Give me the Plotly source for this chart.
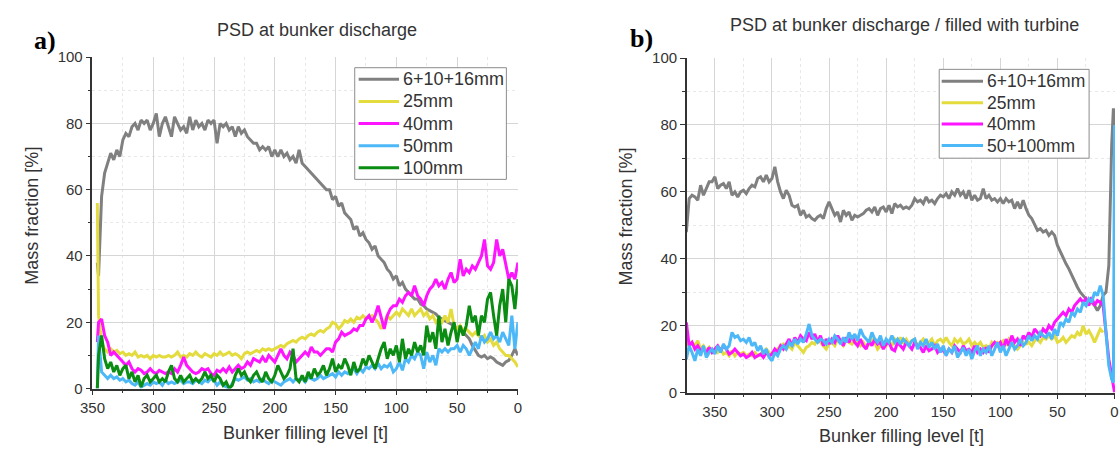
import plotly.graph_objects as go

# ---------------- Panel a data (bunker filling level [t] vs mass fraction [%]) ----------------
XA = [346, 345, 342.5, 340, 337.5, 335, 332.5, 330, 327.5, 325, 322.5, 320, 317.5, 315, 312.5, 310,
      307.5, 305, 302.5, 300, 297.5, 295, 292.5, 290, 287.5, 285, 282.5, 280, 277.5, 275, 272.5, 270,
      267.5, 265, 262.5, 260, 257.5, 255, 252.5, 250, 247.5, 245, 242.5, 240, 237.5, 235, 232.5, 230,
      227.5, 225, 222.5, 220, 217.5, 215, 212.5, 210, 207.5, 205, 202.5, 200, 197.5, 195, 192.5, 190,
      187.5, 185, 182.5, 180, 177.5, 175, 172.5, 170, 167.5, 165, 162.5, 160, 157.5, 155, 152.5, 150,
      147.5, 145, 142.5, 140, 137.5, 135, 132.5, 130, 127.5, 125, 122.5, 120, 117.5, 115, 112.5, 110,
      107.5, 105, 102.5, 100, 97.5, 95, 92.5, 90, 87.5, 85, 82.5, 80, 77.5, 75, 72.5, 70,
      67.5, 65, 62.5, 60, 57.5, 55, 52.5, 50, 47.5, 45, 42.5, 40, 37.5, 35, 32.5, 30,
      27.5, 25, 22.5, 20, 17.5, 15, 12.5, 10, 7.5, 5, 2.5, 0]

A_FINE = [38, 34, 58, 65, 68, 71, 69, 72, 70, 75, 77, 76, 79, 80, 78, 81,
          80, 81, 78, 80, 83, 76, 80, 82, 79, 76, 82, 80, 78, 79, 77, 82,
          78, 81, 79, 80, 78, 81, 80, 81, 74, 80, 79, 80, 78, 79, 76, 79,
          77, 78, 76, 75, 74, 74, 72, 73, 72, 73, 70, 72, 70, 72, 70, 71,
          69, 70, 68, 72, 68, 67, 66, 65, 64, 63, 62, 61, 60, 60, 57, 58,
          55, 56, 53, 52, 51, 48, 49, 46, 47, 45, 44, 42, 43, 40, 39, 38,
          36, 35, 33, 34, 31, 32, 30, 29, 28, 27, 27, 25.5, 25, 24, 23.5, 23,
          22.5, 21.5, 21, 20.5, 20, 19.5, 19, 18, 18, 17, 16, 15, 13, 11.5, 10, 9.5,
          10, 9, 9.5, 9, 8, 7.5, 7, 8, 8.5, 10, 12, 10]

A_25 = [56, 22, 14, 12, 11, 12, 11, 11.5, 10.5, 11, 10, 10.5, 10, 11, 9.5, 10,
        9.5, 10, 9, 10, 9.5, 10, 9.5, 9.5, 10, 9.5, 10, 11, 9.5, 10, 9.5, 10.5,
        10, 11, 10, 9.5, 10.5, 10, 9.5, 10.5, 10, 11, 10, 10.5, 11, 10, 10.5, 10,
        9, 10.5, 11, 10.5, 11, 11.5, 11, 12, 11.5, 12, 11.5, 12, 12.5, 13, 12.5, 13.5,
        14, 14.5, 14, 15, 15.5, 15, 16, 16.5, 16, 17, 17.5, 17, 18, 18.5, 20, 19.5,
        18, 19, 20.5, 20, 21, 20, 21.5, 21, 22, 21, 21.5, 22, 21, 20, 18, 20,
        22, 21, 22, 23, 22, 24, 23, 22, 24, 22, 23, 24, 22, 23, 21, 22,
        20, 21, 20, 22, 20, 24, 19, 18, 19, 17.5, 18, 17, 16, 17, 16, 15,
        16, 14, 15, 13, 14, 12, 11, 10, 10, 9, 8, 6.5]

A_40 = [14, 20, 21, 16, 14, 10, 11, 10, 9, 8, 7, 8, 6, 5, 6, 5.5,
        4.5, 5, 6, 5, 4.5, 5.5, 5, 4.5, 5, 4.5, 6, 5, 7, 9.5, 7, 6,
        5, 4.5, 5, 6, 5.5, 6, 4.5, 4, 5.5, 5, 6, 5, 6.5, 5, 6, 7,
        6, 6.5, 8, 7, 9, 8.5, 8, 9.5, 8, 10, 9, 8, 10, 12, 10, 9,
        11, 10, 8, 9, 10, 11, 10, 12.5, 11, 11, 10, 11, 12, 12, 11, 14,
        15, 17, 16, 16.5, 17, 18, 17.5, 19, 19, 21, 22, 20, 22, 25, 21, 18,
        22, 24, 25, 25, 27, 26, 28, 29, 28, 31, 28, 27, 25, 28, 30, 31,
        33, 31, 32, 30, 33, 35, 32, 33, 39, 34, 36, 35, 37, 36, 38, 40,
        45, 37, 36, 38, 45, 40, 42, 38, 33, 35, 33, 38]

A_50 = [0, 16, 5, 4, 3, 4, 3, 3.5, 2.5, 3, 2, 2.5, 1.5, 1, 2, 0.5,
        1, 1.5, 1, 2, 1.5, 2, 1, 2.5, 1.5, 2, 1.5, 2, 2.5, 1.5, 2, 2,
        1.5, 2.5, 2, 1.5, 2.5, 2, 3, 2.5, 1, 2, 1, 0.5, 0, 1.5, 3, 2.5,
        3, 3.5, 2.5, 3, 2, 2.5, 2, 3, 2, 1.5, 2.5, 2, 1.5, 1, 2, 2.5,
        3, 2, 3, 2.5, 3, 2, 3.5, 3, 2.5, 3, 4, 3, 3.5, 4, 4.5, 3.5,
        5, 4, 5, 4.5, 5.5, 6, 4.5, 6, 5, 6.5, 6, 7, 6, 7.5, 6, 7,
        6.5, 7.5, 5, 6, 8, 5.5, 9, 8, 10, 9, 11, 10, 6, 11, 8, 10,
        7, 12, 11, 12, 11, 12, 12, 13, 11, 13, 12, 10, 12, 14, 12, 16,
        14, 15, 17, 15, 16, 14, 17, 15, 13, 22, 12, 20]

A_100 = [0, 10, 16, 9, 6, 8, 5, 7, 4, 6, 7, 3, 5, 2, 4, 0.5,
         3, 4, 2, 3, 4, 2, 3, 2, 5, 7, 3, 2, 4, 2, 3, 4,
         2, 3, 2, 3, 5, 3, 4, 2, 4, 3, 1, 2, 0, 1, 4, 6,
         4, 5, 3, 2, 4, 5, 3, 2, 5, 3, 2, 4, 7, 5, 3, 4,
         6, 12, 3, 2, 4, 2, 5, 3, 6, 4, 5, 7, 4, 6, 9, 5,
         7, 6, 9, 7, 4, 8, 5, 6, 9, 7, 10, 8, 6, 9, 12, 14,
         9, 12, 10, 13, 8, 15, 9, 12, 10, 14, 11, 13, 10, 19, 14, 17,
         12, 22, 14, 18, 13, 17, 20, 14, 19, 16, 19, 25, 20, 22, 16, 22,
         20, 27, 29, 22, 16, 25, 30, 20, 33, 31, 24, 33]

# ---------------- Panel b data ----------------
XB = [375, 372.5, 370, 367.5, 365, 362.5, 360, 357.5, 355, 352.5, 350, 347.5, 345, 342.5, 340, 337.5,
      335, 332.5, 330, 327.5, 325, 322.5, 320, 317.5, 315, 312.5, 310, 307.5, 305, 302.5, 300, 297.5,
      295, 292.5, 290, 287.5, 285, 282.5, 280, 277.5, 275, 272.5, 270, 267.5, 265, 262.5, 260, 257.5,
      255, 252.5, 250, 247.5, 245, 242.5, 240, 237.5, 235, 232.5, 230, 227.5, 225, 222.5, 220, 217.5,
      215, 212.5, 210, 207.5, 205, 202.5, 200, 197.5, 195, 192.5, 190, 187.5, 185, 182.5, 180, 177.5,
      175, 172.5, 170, 167.5, 165, 162.5, 160, 157.5, 155, 152.5, 150, 147.5, 145, 142.5, 140, 137.5,
      135, 132.5, 130, 127.5, 125, 122.5, 120, 117.5, 115, 112.5, 110, 107.5, 105, 102.5, 100, 97.5,
      95, 92.5, 90, 87.5, 85, 82.5, 80, 77.5, 75, 72.5, 70, 67.5, 65, 62.5, 60, 57.5,
      55, 52.5, 50, 47.5, 45, 42.5, 40, 37.5, 35, 32.5, 30, 27.5, 25, 22.5, 20, 17.5,
      15, 12.5, 10, 7.5, 5, 2.5, 1, 0]

B_FINE = [48, 58, 59, 58.5, 57.5, 62, 59, 61, 63, 63, 64.5, 61, 62, 62.5, 61, 63,
          59, 60, 58.5, 60, 60.5, 59.5, 61, 62, 61.5, 64, 64.5, 63, 65, 63, 64, 67.5,
          63, 60, 58, 60.5, 59, 56, 55.5, 56, 53, 54.5, 52.5, 53, 52, 51.5, 52.5, 53,
          52, 55, 57, 55, 53, 54, 51, 54.5, 53, 54, 51.5, 53, 52.5, 53, 53.5, 54.5,
          55, 54, 55.5, 53, 55, 55.5, 54, 56, 53.5, 56.5, 55.5, 56, 55, 55.5, 55, 56,
          58, 57, 57.5, 56.5, 58.5, 57, 57.5, 56.5, 58, 59, 58.5, 59.5, 58, 60, 59, 61,
          59, 60, 58, 60.5, 57.5, 59, 57.5, 58, 61, 58, 59, 57.5, 58, 57, 58, 56.5,
          58, 57, 57.5, 55, 57, 55, 57.5, 55, 53, 52, 50, 48.5, 49, 48, 48.5, 47,
          48, 47, 44, 42, 40, 38.5, 37, 35, 33, 31.5, 30, 29, 28, 27.5, 27, 26,
          24.5, 26, 29, 30, 38, 74, 85, 80]

B_25 = [15, 14, 15, 14, 15.5, 13, 14, 12.5, 13.5, 12, 13, 12, 13, 11.5, 12, 11,
        12.5, 11, 12, 11.5, 12, 11, 11.5, 11, 12, 11, 11.5, 12, 13, 12, 11.5, 12.5,
        13, 14, 14.5, 13, 14, 13, 15, 14, 13, 12, 13.5, 14, 15, 14.5, 16, 15,
        14, 13, 14.5, 15, 14, 16, 15, 14, 16, 15, 14.5, 16, 15, 14, 15, 13.5,
        14.5, 16, 15, 13, 14, 15, 14, 15.5, 14, 16, 15, 16.5, 15, 16, 14.5, 15.5,
        16, 14, 15, 16, 14.5, 15, 16, 14, 15.5, 16, 15, 16.5, 15, 14, 16, 15,
        16, 14.5, 15, 16, 14, 15, 14, 15, 13.5, 14, 13, 15, 14, 15, 14.5, 15.5,
        14, 16, 15, 14, 13, 14, 15, 14.5, 15, 14, 15.5, 16, 15, 16.5, 16, 17,
        16, 17, 15, 15.5, 16.5, 15, 16, 17, 16.5, 18, 17, 20, 17.5, 18.5, 17, 15,
        17, 19, 18, None, None, None, None, None]

B_40 = [21, 14, 15, 13, 14, 12.5, 13, 12, 13.5, 12, 13, 14, 12.5, 14, 13, 11.5,
        12, 13, 12, 11, 11.5, 10.5, 11, 12, 10.5, 11, 11.5, 10.5, 12, 11, 11.5, 13,
        12, 14, 13, 14.5, 16, 14, 16.5, 15, 17, 16, 15.5, 18, 16, 17.5, 15, 17,
        14, 16, 14.5, 16, 15, 17, 15.5, 14, 16.5, 15, 17, 15, 14, 16, 14, 13,
        15.5, 14, 16, 14.5, 15, 13, 14.5, 15, 13, 12.5, 15, 14, 13, 15, 14, 13,
        15, 14, 13.5, 12, 14, 12.5, 13, 14, 12, 13, 12.5, 11.5, 13, 12, 14, 13,
        12, 14, 12.5, 13, 12, 14, 12, 13, 12, 13.5, 12, 14, 15, 14, 15, 13,
        16, 14, 17, 15, 16, 14, 17, 16, 18, 16.5, 19, 18, 17, 19, 18, 20,
        19, 21, 22, 23, 24, 23, 25, 24, 26, 27, 28, 27, 28, 26, 28.5, 26,
        27.5, 27, 26, 18, 10, 5, 1, 0]

B_50_100 = [10, 14, 12, 9.5, 13, 11, 14, 10.5, 12, 13, 11.5, 14, 12, 14.5, 13, 14,
            18, 16.5, 17, 15.5, 16, 15, 16.5, 14, 15, 12.5, 14, 11.5, 13, 10.5, 9.5, 12,
            11, 13, 14, 13, 15, 14, 16, 14.5, 16, 15, 17.5, 20.5, 17, 16, 15, 16,
            15.5, 14.5, 16, 15, 17, 16, 14.5, 16.5, 15, 18, 16, 17.5, 15.5, 19, 17, 16,
            15, 18, 16, 15, 17, 14, 16, 15, 17, 15, 16, 14.5, 16, 15, 14, 15.5,
            16, 13, 15, 14, 16, 13.5, 15, 13, 14.5, 12, 14, 11, 13, 12, 14, 10.5,
            12, 13.5, 11, 13, 10, 12.5, 14, 11, 13, 12, 14, 11, 13, 15, 12, 14,
            11, 13, 15, 13, 14, 16, 14, 15, 17, 15.5, 17, 16, 18, 17, 16.5, 18,
            16, 19, 17, 21, 20, 22, 21, 24, 23, 25, 24, 27, 26, 28, 27, 30,
            29, 32, 29, 18, 8, 4, 3, 80]

LABELS_A = ["6+10+16mm", "25mm", "40mm", "50mm", "100mm"]
LABELS_B = ["6+10+16mm", "25mm", "40mm", "50+100mm"]
Y_TICKS = [0, 20, 40, 60, 80, 100]
X_TICKS = [350, 300, 250, 200, 150, 100, 50, 0]

GRAY = "#808080"
YELLOW = "#e4dc3c"
MAGENTA = "#ff14ff"
BLUE = "#4db8f8"
GREEN = "#0b8c12"
COLORS_A = [GRAY, YELLOW, MAGENTA, BLUE, GREEN]
COLORS_B = [GRAY, YELLOW, MAGENTA, BLUE]

W, H = 1119, 454
FONT = "Liberation Sans, Arial, sans-serif"
TXT = "#333333"
LW = 3.0

fig = go.Figure()

for ys, col, name in zip([A_FINE, A_25, A_40, A_50, A_100], COLORS_A, LABELS_A):
    fig.add_trace(go.Scatter(x=XA, y=ys, mode="lines", name=name, showlegend=False,
                             line=dict(color=col, width=LW), xaxis="x", yaxis="y"))

for ys, col, name in zip([B_FINE, B_25, B_40, B_50_100], COLORS_B, LABELS_B):
    fig.add_trace(go.Scatter(x=XB, y=ys, mode="lines", name=name, showlegend=False,
                             line=dict(color=col, width=LW), xaxis="x2", yaxis="y2",
                             connectgaps=False))


def px_x(p):
    return p / W


def px_y(p):
    return 1 - p / H


axis_common = dict(
    showline=True, linecolor="#333333", linewidth=1.6, mirror=False,
    ticks="outside", ticklen=5, tickwidth=1.4, tickcolor="#333333",
    showgrid=True, gridcolor="#d6d6d6", gridwidth=1, zeroline=False,
    tickfont=dict(family=FONT, size=15, color=TXT),
)

xa_minor = dict(dtick=25, ticks="outside", ticklen=3, tickwidth=1.2, tickcolor="#333333",
                showgrid=True, gridcolor="#e8e8e8", griddash="dot", gridwidth=1)
ya_minor = dict(dtick=10, ticks="outside", ticklen=3, tickwidth=1.2, tickcolor="#333333",
                showgrid=True, gridcolor="#e8e8e8", griddash="dot", gridwidth=1)

fig.update_layout(
    width=W, height=H,
    margin=dict(l=0, r=0, t=0, b=0),
    paper_bgcolor="white", plot_bgcolor="white",
    font=dict(family=FONT, color=TXT),
    showlegend=False,
    xaxis=dict(domain=[px_x(80.7), px_x(512.7)], range=[350, 0], autorange=False,
               tickvals=X_TICKS, anchor="y", minor=xa_minor, **axis_common),
    yaxis=dict(domain=[px_y(394.3), px_y(50)], range=[0, 100], autorange=False,
               tickvals=Y_TICKS, anchor="x", minor=ya_minor, **axis_common),
    xaxis2=dict(domain=[px_x(684.3), 1.0], range=[374.5, -0.4], autorange=False,
                tickvals=X_TICKS, anchor="y2", minor=xa_minor, **axis_common),
    yaxis2=dict(domain=[px_y(398.5), px_y(51)], range=[0, 100], autorange=False,
                tickvals=Y_TICKS, anchor="x2", minor=ya_minor, **axis_common),
)

ann = []
shapes = []


def text(t, x, y, size, anchor="center", angle=0, family=FONT, color=TXT):
    ann.append(dict(text=t, x=px_x(x), y=px_y(y), xref="paper", yref="paper",
                    xanchor=anchor, yanchor="middle", showarrow=False, textangle=angle,
                    font=dict(family=family, size=size, color=color)))


text("PSD at bunker discharge", 309, 22, 18)
text("PSD at bunker discharge / filled with turbine", 905, 17, 18)
text("<b>a)</b>", 19, 33, 26, anchor="left", family="Liberation Serif, Times New Roman, serif", color="#000")
text("<b>b)</b>", 624, 31, 26, anchor="left", family="Liberation Serif, Times New Roman, serif", color="#000")
text("Bunker filling level [t]", 297, 440, 18)
text("Bunker filling level [t]", 902, 444, 18)
text("Mass fraction [%]", 19, 215, 18, angle=-90)
text("Mass fraction [%]", 622, 216, 18, angle=-90)


def legend_box(x0, y0, x1, y1, line_x0, line_x1, text_x, first_y, step, labels, colors, size):
    shapes.append(dict(type="rect", xref="paper", yref="paper",
                       x0=px_x(x0), x1=px_x(x1), y0=px_y(y1), y1=px_y(y0),
                       line=dict(color="#8c8c8c", width=1), fillcolor="white", layer="above"))
    for i, (lab, col) in enumerate(zip(labels, colors)):
        yy = first_y + i * step
        shapes.append(dict(type="line", xref="paper", yref="paper",
                           x0=px_x(line_x0), x1=px_x(line_x1), y0=px_y(yy), y1=px_y(yy),
                           line=dict(color=col, width=LW), layer="above"))
        text(lab, text_x, yy, size, anchor="left")


legend_box(347, 61, 501, 177, 351, 392, 394, 73, 23, LABELS_A, COLORS_A, 18)
legend_box(940.5, 62.7, 1092.7, 155, 943, 985, 987, 75, 22.3, LABELS_B, COLORS_B, 17.5)

fig.update_layout(annotations=ann, shapes=shapes)

fig.write_html("out.html")
